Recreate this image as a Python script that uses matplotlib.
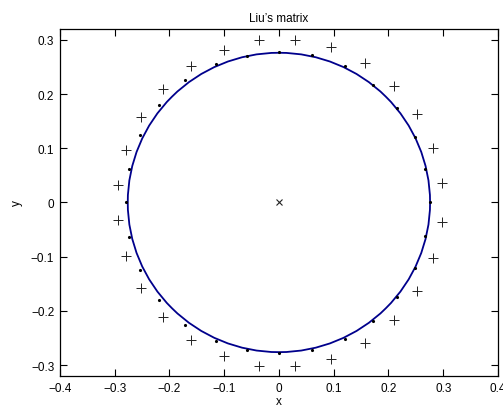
"""Liu's matrix: eigenvalue-like points around a circle, MATLAB style."""
import matplotlib
matplotlib.use("Agg")
import matplotlib.pyplot as plt
from matplotlib.patches import Circle

plt.rcParams["font.family"] = ["Liberation Sans", "DejaVu Sans"]

# '+' markers, upper half (right -> left) and lower half (right -> left)
PLUS_X_UP = [0.298, 0.282, 0.252, 0.210, 0.158, 0.096, 0.030,
             -0.037, -0.101, -0.160, -0.211, -0.252, -0.279, -0.293]
PLUS_Y_UP = [0.035, 0.101, 0.163, 0.215, 0.257, 0.286, 0.300,
             0.299, 0.282, 0.252, 0.210, 0.157, 0.096, 0.032]
PLUS_X_LO = [0.298, 0.282, 0.252, 0.210, 0.158, 0.096, 0.030,
             -0.037, -0.101, -0.160, -0.211, -0.252, -0.279, -0.293]
PLUS_Y_LO = [-0.036, -0.102, -0.164, -0.217, -0.259, -0.288, -0.301,
             -0.301, -0.283, -0.254, -0.211, -0.158, -0.098, -0.033]

# '.' markers
DOT_X = [0.275, 0.267, 0.248, 0.216, 0.172, 0.120, 0.060, 0.000,
         -0.058, -0.115, -0.171, -0.219, -0.254, -0.274, -0.280,
         -0.274, -0.254, -0.219, -0.171, -0.115, -0.058, 0.000,
         0.060, 0.120, 0.172, 0.216, 0.248, 0.267]
DOT_Y = [0.000, 0.062, 0.121, 0.174, 0.217, 0.252, 0.272, 0.278,
         0.271, 0.255, 0.225, 0.180, 0.124, 0.062, 0.000,
         -0.064, -0.125, -0.180, -0.226, -0.255, -0.272, -0.278,
         -0.272, -0.252, -0.219, -0.174, -0.121, -0.061]

CENTER = (0.0, 0.0)
RADIUS = 0.276

fig = plt.figure(figsize=(5.03, 4.10), dpi=100)
ax = fig.add_axes([0.119, 0.0805, 0.871, 0.8465])

ax.add_patch(Circle(CENTER, RADIUS, fill=False, edgecolor="#00008c", lw=1.3))
ax.plot(PLUS_X_UP + PLUS_X_LO, PLUS_Y_UP + PLUS_Y_LO, "+", color="#222222",
        ms=6.5, mew=0.7)
ax.plot(DOT_X, DOT_Y, ".", color="black", ms=2.5)
ax.plot([CENTER[0]], [CENTER[1]], "x", color="#222222", ms=4, mew=0.8)

ax.set_xlim(-0.4, 0.4)
ax.set_ylim(-0.32, 0.32)
ax.set_xticks([-0.4, -0.3, -0.2, -0.1, 0, 0.1, 0.2, 0.3, 0.4])
ax.set_yticks([-0.3, -0.2, -0.1, 0, 0.1, 0.2, 0.3])
ax.set_xticklabels(["\u22120.4", "\u22120.3", "\u22120.2", "\u22120.1", "0",
                    "0.1", "0.2", "0.3", "0.4"])
ax.set_yticklabels(["\u22120.3", "\u22120.2", "\u22120.1", "0",
                    "0.1", "0.2", "0.3"])
ax.tick_params(direction="in", top=True, right=True, length=5, width=0.8,
               labelsize=8.5, pad=4)
for s in ax.spines.values():
    s.set_linewidth(0.9)

ax.set_title("Liu’s matrix", fontsize=8.5, pad=6)
ax.set_xlabel("x", fontsize=8.5, labelpad=1)
ax.set_ylabel("y", fontsize=8.5, labelpad=6)

fig.savefig("out.png", dpi=100)
